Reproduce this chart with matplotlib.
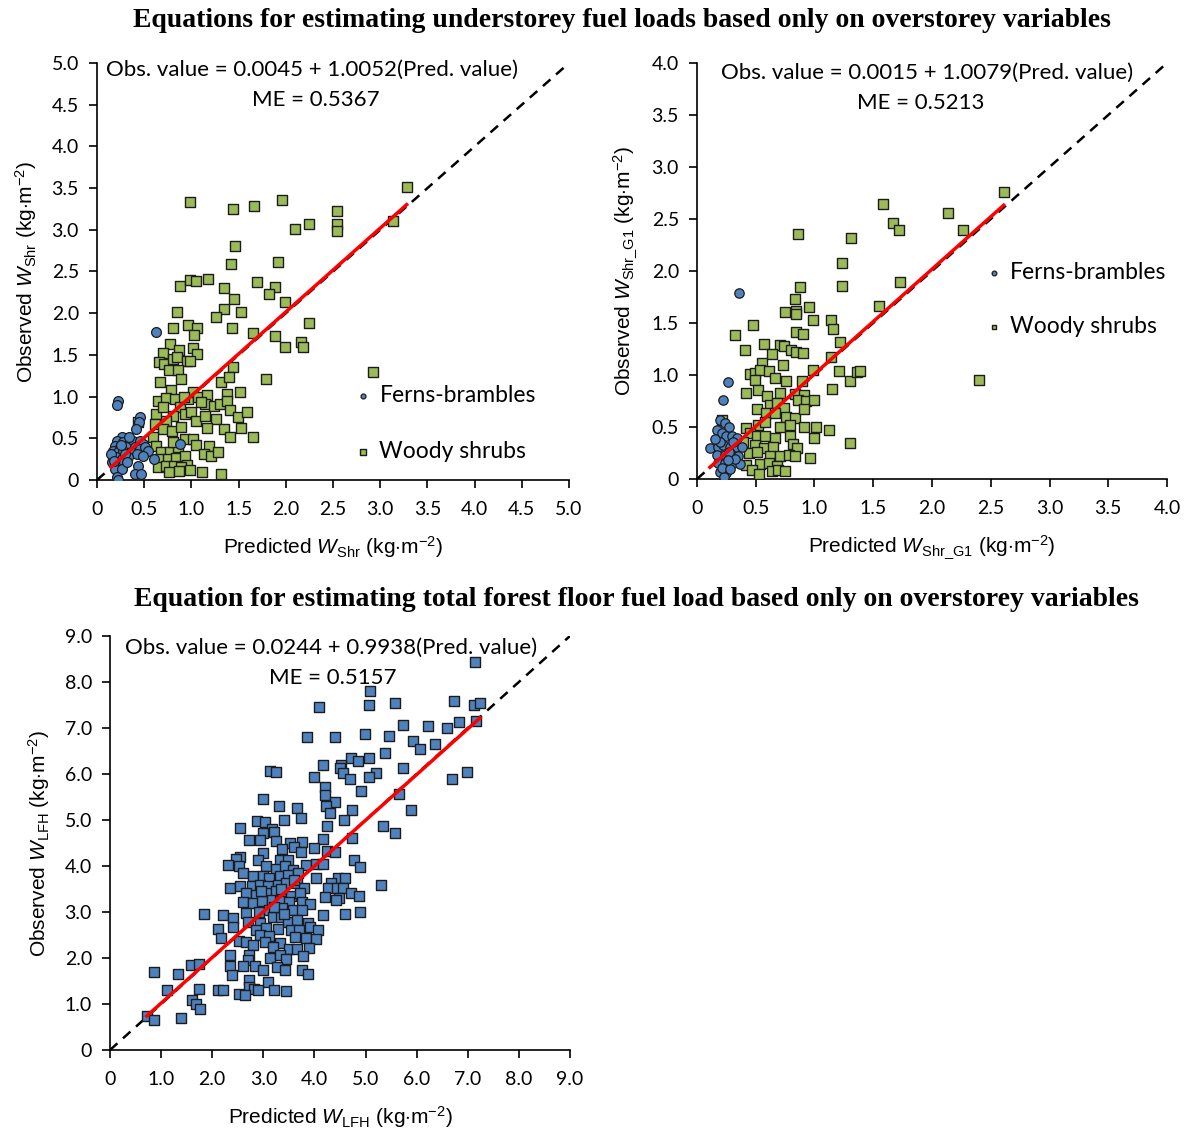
import numpy as np
import matplotlib
matplotlib.use("Agg")
import matplotlib.pyplot as plt
from matplotlib.ticker import MultipleLocator, FuncFormatter

plt.rcParams['font.family'] = ['Lato', 'DejaVu Sans']
plt.rcParams['mathtext.fontset'] = 'custom'
plt.rcParams['mathtext.rm'] = 'Liberation Sans'
plt.rcParams['mathtext.it'] = 'Liberation Sans:italic'

# ---- panel 1 : W_Shr  (pred, obs) ----
ferns_1 = np.array([
    (0.62, 1.78), (0.22, 0.95), (0.21, 0.90), (0.46, 0.75), (0.44, 0.70), (0.41, 0.61),
    (0.26, 0.52), (0.21, 0.47), (0.28, 0.45), (0.35, 0.45), (0.38, 0.47), (0.45, 0.47),
    (0.49, 0.43), (0.19, 0.41), (0.24, 0.39), (0.31, 0.39), (0.40, 0.39), (0.45, 0.37),
    (0.51, 0.39), (0.54, 0.35), (0.17, 0.35), (0.22, 0.33), (0.28, 0.35), (0.36, 0.33),
    (0.42, 0.31), (0.49, 0.29), (0.20, 0.27), (0.26, 0.25), (0.33, 0.27), (0.16, 0.21),
    (0.23, 0.19), (0.29, 0.21), (0.43, 0.17), (0.60, 0.25), (0.88, 0.43), (0.19, 0.13),
    (0.26, 0.13), (0.40, 0.07), (0.47, 0.07), (0.21, 0.03), (0.22, 0.00), (0.15, 0.31),
    (0.34, 0.51), (0.30, 0.31), (0.25, 0.42), (0.32, 0.22), (0.18, 0.23),
])
shrubs_1 = np.array([
    (3.28, 3.51), (0.98, 3.33), (1.44, 3.25), (1.66, 3.29), (1.96, 3.36), (2.54, 3.23),
    (2.54, 3.07), (2.54, 2.98), (2.10, 3.01), (2.25, 3.07), (3.14, 3.10), (1.46, 2.81),
    (1.42, 2.59), (1.92, 2.61), (1.69, 2.38), (0.88, 2.33), (0.98, 2.40), (1.05, 2.39),
    (1.18, 2.41), (1.35, 2.30), (1.45, 2.17), (1.89, 2.31), (1.82, 2.23), (1.99, 2.14),
    (1.35, 2.05), (1.52, 2.02), (1.26, 1.95), (0.85, 2.02), (0.81, 1.82), (0.96, 1.86),
    (1.06, 1.82), (1.03, 1.74), (1.43, 1.82), (1.65, 1.76), (2.25, 1.88), (1.89, 1.73),
    (1.99, 1.59), (2.16, 1.66), (2.18, 1.59), (0.77, 1.63), (0.70, 1.52), (0.87, 1.56),
    (1.02, 1.58), (1.06, 1.51), (0.66, 1.42), (0.71, 1.39), (0.81, 1.45), (0.85, 1.47),
    (0.95, 1.43), (0.98, 1.43), (0.76, 1.32), (0.86, 1.32), (0.89, 1.21), (0.67, 1.18),
    (1.44, 1.35), (1.31, 1.18), (1.40, 1.23), (1.79, 1.21), (2.92, 1.30),
    (0.78, 1.08), (0.65, 0.95), (0.73, 0.98), (0.83, 0.97), (0.88, 0.87), (0.96, 0.97),
    (1.02, 1.05), (1.07, 1.00), (1.16, 1.02), (1.14, 0.91), (1.24, 0.89), (1.30, 0.91),
    (1.38, 1.03), (1.38, 0.95), (1.51, 1.06), (1.41, 0.84), (1.49, 0.75), (1.59, 0.82),
    (0.93, 0.79), (1.00, 0.81), (1.05, 0.71), (1.14, 0.77), (1.26, 0.73), (0.81, 0.77),
    (0.73, 0.71), (0.63, 0.79), (0.61, 0.67), (0.70, 0.61), (0.79, 0.59), (0.89, 0.63),
    (1.17, 0.62), (1.35, 0.61), (1.41, 0.52), (1.53, 0.62), (1.65, 0.52), (0.43, 0.69),
    (0.59, 0.51), (0.63, 0.41), (0.68, 0.33), (0.77, 0.33), (0.86, 0.39), (0.93, 0.49),
    (1.02, 0.49), (1.05, 0.42), (1.19, 0.41), (1.13, 0.31), (1.21, 0.29), (1.28, 0.33),
    (0.66, 0.25), (0.75, 0.25), (0.84, 0.26), (0.93, 0.29), (0.65, 0.15), (0.73, 0.17),
    (0.82, 0.17), (0.95, 0.18), (0.89, 0.15), (0.76, 0.09), (0.87, 0.11), (1.11, 0.10),
    (1.31, 0.07), (0.98, 0.12), (0.81, 0.45), (0.92, 1.00), (1.10, 0.93), (0.70, 0.88),
])

# ---- panel 2 : W_Shr_G1 ----
ferns_2 = np.array([
    (0.36, 1.79), (0.26, 0.93), (0.22, 0.76), (0.20, 0.57), (0.24, 0.54), (0.27, 0.50),
    (0.17, 0.47), (0.21, 0.44), (0.25, 0.41), (0.30, 0.41), (0.34, 0.39), (0.11, 0.30),
    (0.18, 0.31), (0.22, 0.33), (0.28, 0.31), (0.34, 0.31), (0.38, 0.31), (0.17, 0.23),
    (0.24, 0.23), (0.30, 0.22), (0.35, 0.22), (0.18, 0.15), (0.24, 0.15), (0.31, 0.15),
    (0.37, 0.14), (0.20, 0.07), (0.25, 0.06), (0.23, 0.02), (0.21, 0.11), (0.28, 0.10),
    (0.32, 0.19), (0.27, 0.26), (0.20, 0.36), (0.31, 0.36), (0.15, 0.38), (0.26, 0.18),
])
shrubs_2 = np.array([
    (2.61, 2.76), (1.58, 2.64), (2.14, 2.56), (1.67, 2.46), (1.72, 2.39), (2.26, 2.39),
    (0.86, 2.36), (1.31, 2.32), (1.23, 2.08), (1.23, 1.86), (1.73, 1.89), (0.88, 1.85),
    (0.83, 1.73), (0.95, 1.65), (0.75, 1.61), (0.84, 1.62), (0.84, 1.59), (0.99, 1.53),
    (1.14, 1.53), (1.16, 1.44), (0.84, 1.41), (0.90, 1.39), (0.48, 1.48), (0.32, 1.38),
    (0.41, 1.24), (0.57, 1.30), (0.71, 1.29), (0.74, 1.28), (0.64, 1.20), (0.80, 1.24),
    (0.84, 1.22), (0.90, 1.21), (0.73, 1.10), (1.22, 1.32), (1.14, 1.17), (1.55, 1.66),
    (0.55, 1.12), (0.45, 1.01), (0.49, 1.02), (0.54, 1.05), (0.61, 1.04), (0.66, 0.97),
    (0.76, 0.94), (0.89, 0.94), (0.99, 1.05), (1.21, 1.04), (1.30, 0.94), (1.36, 1.03),
    (1.39, 1.04), (1.15, 0.87), (0.42, 0.83), (0.49, 0.95), (0.52, 0.86), (0.60, 0.80),
    (0.71, 0.83), (0.83, 0.82), (0.91, 0.81), (0.86, 0.76), (0.93, 0.75), (1.00, 0.76),
    (0.51, 0.67), (0.62, 0.71), (0.68, 0.73), (0.74, 0.68), (0.59, 0.63), (0.66, 0.63),
    (0.76, 0.60), (0.83, 0.59), (0.91, 0.67), (0.91, 0.50), (1.01, 0.50), (1.12, 0.47),
    (1.30, 0.35), (1.00, 0.39), (0.52, 0.52), (0.58, 0.55), (0.71, 0.50), (0.79, 0.52),
    (0.42, 0.49), (0.45, 0.44), (0.51, 0.41), (0.58, 0.41), (0.66, 0.39), (0.79, 0.41),
    (0.82, 0.34), (0.49, 0.33), (0.57, 0.30), (0.65, 0.31), (0.85, 0.30), (0.44, 0.25),
    (0.51, 0.26), (0.62, 0.22), (0.71, 0.22), (0.78, 0.23), (0.83, 0.22), (0.96, 0.20),
    (0.42, 0.13), (0.54, 0.14), (0.61, 0.15), (0.68, 0.12), (0.47, 0.09), (0.53, 0.05),
    (0.64, 0.08), (0.69, 0.09), (0.75, 0.08), (0.21, 0.57), (0.39, 0.36), (2.40, 0.95),
])

# ---- panel 3 : W_LFH ----
lfh = np.array([
    (7.14, 8.44), (5.08, 7.81), (5.07, 7.51), (5.58, 7.54), (4.09, 7.46), (6.73, 7.59),
    (7.12, 7.51), (7.24, 7.54), (6.83, 7.13), (7.16, 7.16), (5.73, 7.06), (6.23, 7.04),
    (6.59, 7.00), (3.86, 6.81), (4.40, 6.81), (4.99, 6.86), (5.45, 6.82), (5.92, 6.72),
    (6.07, 6.55), (6.36, 6.65), (5.38, 6.45), (4.71, 6.34), (4.86, 6.28), (5.06, 6.35),
    (4.16, 6.19), (4.52, 6.19), (4.50, 6.13), (4.56, 6.03), (5.20, 6.03), (5.73, 6.14),
    (6.98, 6.05), (6.69, 5.90), (3.14, 6.07), (3.25, 6.05), (3.99, 5.94), (4.69, 5.89),
    (5.06, 5.93), (4.92, 5.63), (4.20, 5.71), (4.20, 5.55), (5.66, 5.56), (3.00, 5.45),
    (4.40, 5.40), (4.22, 5.31), (3.30, 5.31), (3.66, 5.26), (4.30, 5.15), (4.74, 5.22),
    (5.89, 5.21), (3.73, 5.05), (2.88, 4.98), (3.04, 4.96), (3.41, 4.99), (4.58, 5.00),
    (4.25, 4.88), (5.35, 4.87), (2.54, 4.83), (3.16, 4.80), (3.00, 4.72), (3.20, 4.74),
    (5.58, 4.72), (2.71, 4.56), (2.94, 4.56), (3.25, 4.54), (3.52, 4.50), (3.76, 4.52),
    (4.17, 4.58), (4.73, 4.61), (3.37, 4.37), (3.60, 4.42), (3.73, 4.30), (3.99, 4.39),
    (4.24, 4.32), (4.40, 4.30), (3.00, 4.29), (2.55, 4.19), (2.46, 4.16), (2.90, 4.12),
    (3.32, 4.14), (3.48, 4.14), (4.77, 4.14), (2.31, 4.02), (2.52, 3.99), (3.06, 4.01),
    (3.25, 3.94), (3.43, 3.99), (3.58, 3.92), (3.84, 4.02), (4.03, 4.05), (4.17, 4.05),
    (4.89, 3.97), (2.60, 3.85), (2.80, 3.79), (3.00, 3.78), (3.12, 3.74), (3.32, 3.78),
    (3.48, 3.81), (3.68, 3.85), (4.04, 3.74), (4.46, 3.74), (4.59, 3.74), (4.33, 3.64),
    (2.34, 3.53), (2.54, 3.57), (2.77, 3.56), (2.93, 3.59), (3.09, 3.56), (3.29, 3.59),
    (3.45, 3.62), (3.65, 3.64), (3.79, 3.52), (4.27, 3.52), (4.45, 3.52), (4.56, 3.52),
    (5.30, 3.59), (2.67, 3.41), (2.86, 3.37), (3.06, 3.41), (3.25, 3.45), (3.37, 3.37),
    (3.55, 3.34), (3.71, 3.41), (4.72, 3.41), (4.88, 3.35), (4.21, 3.32), (4.48, 3.30),
    (4.43, 3.27), (2.60, 3.21), (2.80, 3.19), (2.97, 3.23), (3.16, 3.27), (3.32, 3.23),
    (3.50, 3.21), (3.75, 3.21), (3.91, 3.18), (1.83, 2.96), (2.21, 2.94), (2.41, 2.88),
    (2.67, 2.97), (2.92, 3.01), (3.11, 3.05), (3.37, 3.08), (3.58, 3.05), (3.75, 3.05),
    (4.17, 2.94), (4.59, 2.96), (4.89, 3.00), (2.41, 2.68), (2.70, 2.79), (2.93, 2.76),
    (3.19, 2.90), (3.35, 2.90), (3.48, 2.79), (3.65, 2.83), (3.88, 2.76), (2.12, 2.62),
    (2.86, 2.61), (3.06, 2.65), (3.29, 2.62), (3.55, 2.61), (3.70, 2.61), (3.92, 2.68),
    (4.07, 2.61), (2.18, 2.43), (2.52, 2.37), (2.67, 2.35), (2.93, 2.50), (3.12, 2.48),
    (3.32, 2.33), (3.61, 2.46), (3.84, 2.43), (4.04, 2.41), (2.80, 2.28), (3.03, 2.35),
    (3.19, 2.24), (3.50, 2.19), (3.65, 2.19), (3.90, 2.21), (3.78, 2.04), (2.35, 2.06),
    (2.72, 2.06), (2.70, 1.95), (3.14, 1.99), (3.32, 2.06), (3.45, 1.97), (2.60, 1.82),
    (2.83, 1.82), (2.99, 1.75), (3.26, 1.81), (3.42, 1.73), (3.75, 1.73), (3.88, 1.66),
    (2.35, 1.82), (2.39, 1.63), (1.59, 1.84), (1.75, 1.88), (0.87, 1.70), (1.33, 1.66),
    (2.71, 1.52), (3.09, 1.48), (2.72, 1.37), (1.11, 1.30), (1.75, 1.32), (2.11, 1.31),
    (2.21, 1.30), (2.81, 1.33), (2.90, 1.31), (3.20, 1.30), (3.45, 1.28), (2.52, 1.22),
    (2.65, 1.19), (1.61, 1.08), (1.69, 1.01), (1.76, 0.90), (0.72, 0.75), (0.87, 0.66),
    (1.38, 0.69), (3.35, 3.50), (3.60, 3.70), (3.20, 3.10), (3.40, 2.95), (2.95, 3.45),
])

fits = [(0.0045, 1.0052, 0.5367), (0.0015, 1.0079, 0.5213), (0.0244, 0.9938, 0.5157)]

fern_c = '#4F81BD'
shrub_c = '#9BBB59'
edge_c = '#1c1c1c'

fig = plt.figure(figsize=(11.89, 11.31), dpi=100)
ax1 = fig.add_axes([0.0816, 0.5756, 0.397, 0.3687])
ax2 = fig.add_axes([0.5862, 0.5765, 0.3953, 0.3678])
ax3 = fig.add_axes([0.0925, 0.0716, 0.3869, 0.3661])


def fmt(v, pos):
    return '0' if abs(v) < 1e-9 else '%.1f' % v


def style(ax, lim, step, xlab, ylab):
    ax.set_xlim(0, lim)
    ax.set_ylim(0, lim)
    ax.xaxis.set_major_locator(MultipleLocator(step))
    ax.yaxis.set_major_locator(MultipleLocator(step))
    ax.xaxis.set_major_formatter(FuncFormatter(fmt))
    ax.yaxis.set_major_formatter(FuncFormatter(fmt))
    for s in ['top', 'right']:
        ax.spines[s].set_visible(False)
    for s in ['left', 'bottom']:
        ax.spines[s].set_linewidth(1.2)
    ax.tick_params(direction='out', length=6, width=1.2, labelsize=14, pad=7)
    ax.tick_params(axis='x', pad=9)
    ax.set_xlabel(xlab, fontsize=15, family='Liberation Sans', labelpad=12)
    ax.set_ylabel(ylab, fontsize=15, family='Liberation Sans', labelpad=9)
    ax.plot([0, lim], [0, lim], ls=(0, (4, 3)), color='black', lw=1.8, zorder=1)


def fit_line(ax, pts, coef):
    a, b, me = coef
    xs = np.array([pts[:, 0].min(), pts[:, 0].max()])
    ax.plot(xs, a + b * xs, color='red', lw=2.5, zorder=5)


unit = r' (kg$\cdot$m$^{-2}$)'

# panel 1
style(ax1, 5.0, 0.5, r'Predicted $\mathit{W}_{\mathrm{Shr}}$' + unit,
      r'Observed $\mathit{W}_{\mathrm{Shr}}$' + unit)
ax1.scatter(shrubs_1[:, 0], shrubs_1[:, 1], marker='s', s=55, c=shrub_c,
            edgecolors=edge_c, linewidths=1.0, zorder=3, label='Woody shrubs')
ax1.scatter(ferns_1[:, 0], ferns_1[:, 1], marker='o', s=50, c=fern_c,
            edgecolors=edge_c, linewidths=0.9, zorder=4, label='Ferns-brambles')
fit_line(ax1, np.vstack([ferns_1, shrubs_1]), fits[0])
ax1.text(0.455, 0.983, 'Obs. value = 0.0045 + 1.0052(Pred. value)', transform=ax1.transAxes,
         ha='center', va='center', fontsize=16)
ax1.text(0.464, 0.911, 'ME = 0.5367', transform=ax1.transAxes,
         ha='center', va='center', fontsize=16)
h, l = ax1.get_legend_handles_labels()
ax1.legend(h[::-1], l[::-1], loc='center left', bbox_to_anchor=(0.545, 0.136),
           frameon=False, fontsize=16.5, markerscale=0.5, handlelength=0.8,
           handletextpad=0.3, labelspacing=1.55, borderpad=0, borderaxespad=0)

# panel 2
style(ax2, 4.0, 0.5, r'Predicted $\mathit{W}_{\mathrm{Shr\_G1}}$' + unit,
      r'Observed $\mathit{W}_{\mathrm{Shr\_G1}}$' + unit)
ax2.scatter(shrubs_2[:, 0], shrubs_2[:, 1], marker='s', s=46, c=shrub_c,
            edgecolors=edge_c, linewidths=1.0, zorder=3, label='Woody shrubs')
ax2.scatter(ferns_2[:, 0], ferns_2[:, 1], marker='o', s=46, c=fern_c,
            edgecolors=edge_c, linewidths=0.9, zorder=4, label='Ferns-brambles')
fit_line(ax2, np.vstack([ferns_2, shrubs_2]), fits[1])
ax2.text(0.49, 0.976, 'Obs. value = 0.0015 + 1.0079(Pred. value)', transform=ax2.transAxes,
         ha='center', va='center', fontsize=16)
ax2.text(0.477, 0.904, 'ME = 0.5213', transform=ax2.transAxes,
         ha='center', va='center', fontsize=16)
h, l = ax2.get_legend_handles_labels()
ax2.legend(h[::-1], l[::-1], loc='center left', bbox_to_anchor=(0.612, 0.432),
           frameon=False, fontsize=16.5, markerscale=0.5, handlelength=0.8,
           handletextpad=0.3, labelspacing=1.45, borderpad=0, borderaxespad=0)

# panel 3
style(ax3, 9.0, 1.0, r'Predicted $\mathit{W}_{\mathrm{LFH}}$' + unit,
      r'Observed $\mathit{W}_{\mathrm{LFH}}$' + unit)
ax3.scatter(lfh[:, 0], lfh[:, 1], marker='s', s=50, c=fern_c,
            edgecolors=edge_c, linewidths=1.0, zorder=3)
fit_line(ax3, lfh, fits[2])
ax3.text(0.48, 0.971, 'Obs. value = 0.0244 + 0.9938(Pred. value)', transform=ax3.transAxes,
         ha='center', va='center', fontsize=16)
ax3.text(0.485, 0.899, 'ME = 0.5157', transform=ax3.transAxes,
         ha='center', va='center', fontsize=16)

fig.text(0.523, 0.982, 'Equations for estimating understorey fuel loads based only on overstorey variables',
         ha='center', va='center', fontsize=20, fontweight='bold', family='Liberation Serif')
fig.text(0.535, 0.4695, 'Equation for estimating total forest floor fuel load based only on overstorey variables',
         ha='center', va='center', fontsize=20, fontweight='bold', family='Liberation Serif')

fig.savefig('out.png', dpi=100)
